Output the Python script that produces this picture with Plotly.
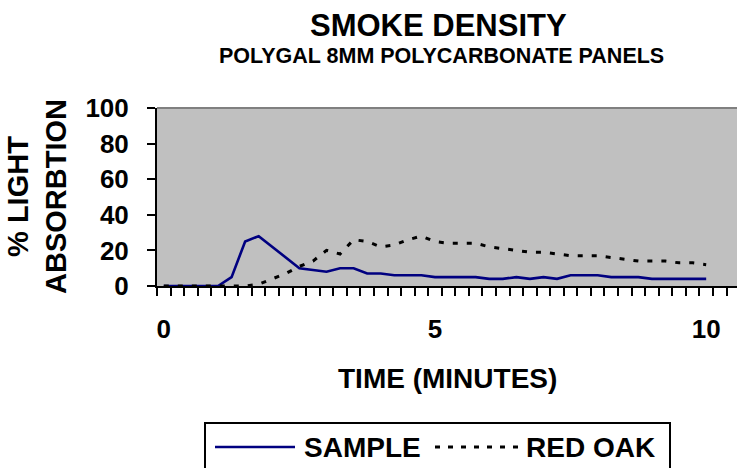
import plotly.graph_objects as go

time_min = [0, 0.25, 0.5, 0.75, 1, 1.25, 1.5, 1.75, 2, 2.25, 2.5, 2.75, 3, 3.25, 3.5, 3.75,
            4, 4.25, 4.5, 4.75, 5, 5.25, 5.5, 5.75, 6, 6.25, 6.5, 6.75, 7, 7.25, 7.5, 7.75,
            8, 8.25, 8.5, 8.75, 9, 9.25, 9.5, 9.75, 10]
sample = [0, 0, 0, 0, 0, 5, 25, 28, 22, 16, 10, 9, 8, 10, 10, 7, 7, 6, 6, 6,
          5, 5, 5, 5, 4, 4, 5, 4, 5, 4, 6, 6, 6, 5, 5, 5, 4, 4, 4, 4, 4]
red_oak = [0, 0, 0, 0, 0, 0, 0, 1, 4, 7, 11, 14, 20, 18, 26, 25, 22, 23, 26, 28,
           25, 24, 24, 24, 22, 21, 20, 19, 19, 18, 17, 17, 17, 16, 15, 14, 14, 14, 13, 13, 12]
x_tick_vals = [0, 5, 10]
x_tick_text = ["0", "5", "10"]
y_tick_vals = [0, 20, 40, 60, 80, 100]

FONT = "Liberation Sans, Arial, sans-serif"
W, H = 737, 468
L, R, T, B = 157, 0, 108, 182
PW, PH = W - L - R, H - T - B


def px(x):
    return (x - L) / PW


def py(y):
    return (H - B - y) / PH


fig = go.Figure()
fig.add_trace(go.Scatter(x=time_min, y=sample, mode="lines", name="SAMPLE",
                         line=dict(color="#000080", width=2.6), cliponaxis=False))
fig.add_trace(go.Scatter(x=time_min, y=red_oak, mode="lines", name="RED OAK",
                         line=dict(color="#000000", width=3, dash="5px,9px"), cliponaxis=False))

xmax = -0.125 + PW / (13.56 / 0.25)

fig.update_layout(
    width=W, height=H,
    margin=dict(l=L, r=R, t=T, b=B, pad=0),
    paper_bgcolor="white",
    plot_bgcolor="#C0C0C0",
    showlegend=False,
    font=dict(family=FONT, color="black"),
    xaxis=dict(
        range=[-0.125, xmax],
        tickmode="array", tickvals=x_tick_vals, ticktext=x_tick_text,
        ticks="", showgrid=False, zeroline=False,
        showline=True, linecolor="black", linewidth=2,
        tickfont=dict(family=FONT, size=26, weight="bold", color="black"),
        ticklabelstandoff=19,
        minor=dict(tickmode="linear", tick0=-0.125, dtick=0.25, ticks="outside",
                   ticklen=8, tickwidth=1.6, tickcolor="black", showgrid=False),
    ),
    yaxis=dict(
        range=[0, 100],
        tickmode="array", tickvals=y_tick_vals,
        ticks="outside", ticklen=8, tickwidth=1.6, tickcolor="black",
        showgrid=False, zeroline=False,
        showline=True, linecolor="black", linewidth=2,
        tickfont=dict(family=FONT, size=26, weight="bold", color="black"),
        ticklabelstandoff=13,
    ),
)

# top border of plot area
fig.add_shape(type="line", xref="paper", yref="paper", x0=0, x1=1, y0=1, y1=1,
              line=dict(color="#808080", width=2))

ann = []
ann.append(dict(text="SMOKE DENSITY", x=px(438), y=py(25), font=dict(size=31, weight="bold")))
ann.append(dict(text="POLYGAL 8MM POLYCARBONATE PANELS", x=px(441), y=py(56),
                font=dict(size=21.5, weight="bold")))
ann.append(dict(text="% LIGHT<br>ABSORBTION", x=px(37), y=0.5, textangle=-90,
                font=dict(size=29, weight="bold")))
ann.append(dict(text="TIME (MINUTES)", x=px(448), y=py(378), font=dict(size=28, weight="bold")))
ann.append(dict(text="SAMPLE", x=px(302), y=py(447), xanchor="left",
                font=dict(size=28, weight="bold")))
ann.append(dict(text="RED OAK", x=px(524), y=py(447), xanchor="left",
                font=dict(size=28, weight="bold")))
for a in ann:
    a.setdefault("xanchor", "center")
    a.update(xref="paper", yref="paper", yanchor="middle", showarrow=False)
    a["font"].update(family=FONT, color="black")
    fig.add_annotation(**a)

# legend box and samples
fig.add_shape(type="rect", xref="paper", yref="paper",
              x0=px(205), x1=px(670), y0=py(423), y1=py(500),
              line=dict(color="black", width=2), fillcolor="white", layer="below")
fig.add_shape(type="line", xref="paper", yref="paper", x0=px(215), x1=px(295),
              y0=py(447), y1=py(447), line=dict(color="#000080", width=2.6))
fig.add_shape(type="line", xref="paper", yref="paper", x0=px(435), x1=px(523),
              y0=py(447), y1=py(447), line=dict(color="black", width=3, dash="5px,8px"))

fig.write_html("out.html", config={"displayModeBar": False},
               post_script="document.body.style.margin='0';document.body.style.overflow='hidden';")
